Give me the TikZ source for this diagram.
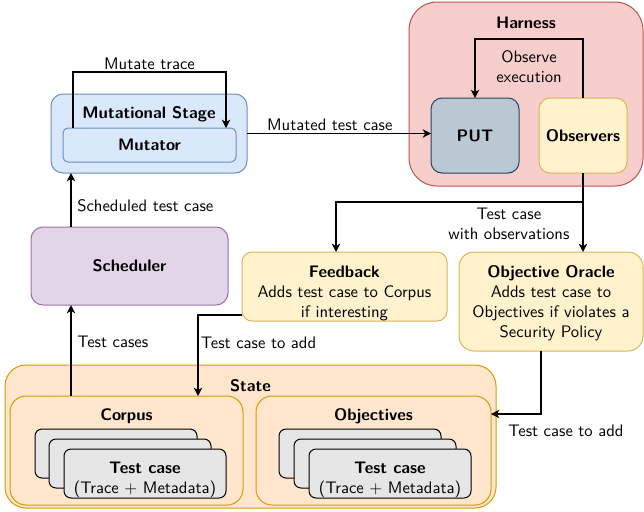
\documentclass[tikz,border=0pt]{standalone}
\usetikzlibrary{arrows.meta}
\definecolor{bluefill}{HTML}{DAE8FC}
\definecolor{bluedraw}{HTML}{6C8EBF}
\definecolor{redfill}{HTML}{F8CECC}
\definecolor{reddraw}{HTML}{B85450}
\definecolor{putfill}{HTML}{BAC8D3}
\definecolor{putdraw}{HTML}{23445D}
\definecolor{yellowfill}{HTML}{FFF2CC}
\definecolor{yellowdraw}{HTML}{D6B656}
\definecolor{purplefill}{HTML}{E1D5E7}
\definecolor{purpledraw}{HTML}{9673A6}
\definecolor{orangefill}{HTML}{FFE6CC}
\definecolor{orangedraw}{HTML}{D79B00}
\definecolor{cardfill}{HTML}{E6E6E6}
\tikzset{
  box/.style={draw, inner sep=0pt, outer sep=0pt, line width=0.6pt, align=center},
  wh/.style 2 args={minimum width=#1*0.6pt, minimum height=#2*0.6pt},
  rc/.style={rounded corners=#1*0.6pt},
  bluebox/.style={box, fill=bluefill, draw=bluedraw},
  redbox/.style={box, fill=redfill, draw=reddraw},
  putbox/.style={box, fill=putfill, draw=putdraw},
  yellowbox/.style={box, fill=yellowfill, draw=yellowdraw},
  purplebox/.style={box, fill=purplefill, draw=purpledraw},
  orangebox/.style={box, fill=orangefill, draw=orangedraw},
  card/.style={box, fill=cardfill, draw=black, wh={162}{49}, rc=7},
  boxtext/.style={align=center, yshift=-3.6pt},
  title/.style={font=\sffamily\bfseries, yshift=-12.3pt},
  arr/.style={-{Stealth[length=5pt,width=5pt,inset=1.5pt]}, line width=0.9pt},
  lbl/.style={inner sep=1pt}
}
\begin{document}
\begin{tikzpicture}[x=0.6pt,y=-0.6pt,font=\sffamily]
\useasboundingbox (0,0) rectangle (644,511);
\node[bluebox,wh={196}{79},rc=12] (stage) at (149,133.5) {};
\node[title] (stagetitle) at (stage.north) {Mutational Stage};
\node[bluebox,wh={173}{34},rc=5,font=\sffamily\bfseries] (mutator) at (149.5,145) {Mutator};
\node[redbox,wh={234}{184},rc=28] (harness) at (526,94) {};
\node[title] (harnesstitle) at (harness.north) {Harness};
\node[putbox,wh={88}{75},rc=11,font=\sffamily\bfseries] (put) at (475,135.5) {PUT};
\node[yellowbox,wh={88}{75},rc=11,font=\sffamily\bfseries] (observers) at (583,135.5) {Observers};
\node[purplebox,wh={197}{78},rc=12,font=\sffamily\bfseries] (scheduler) at (129.5,266) {Scheduler};
\node[yellowbox,wh={205}{69},rc=10] (feedback) at (344.5,286.5) {};
\node[boxtext,yshift=-0.6pt] (feedbacktext) at (feedback) {\textbf{Feedback}\\Adds test case to Corpus\\if interesting};
\node[yellowbox,wh={184}{99},rc=15] (oracle) at (551,301.5) {};
\node[boxtext,yshift=2.4pt] (oracletext) at (oracle) {\textbf{Objective Oracle}\\Adds test case to\\Objectives if violates a\\Security Policy};
\node[orangebox,wh={491}{143},rc=21] (state) at (250.5,436.5) {};
\node[title] (statetitle) at (state.north) {State};
\node[orangebox,wh={233}{109},rc=16] (corpus) at (126.5,450.5) {};
\node[title] (corpustitle) at (corpus.north) {Corpus};
\node[orangebox,wh={235}{109},rc=16] (objectives) at (373.5,450.5) {};
\node[title] (objectivestitle) at (objectives.north) {Objectives};
\node[card] (corpusback) at (116,453.5) {};
\node[card] (corpusmid) at (130,463.5) {};
\node[card] (corpusfront) at (145,473.5) {};
\node[boxtext] (corpustext) at (corpusfront) {\textbf{Test case}\\(Trace + Metadata)};
\node[card] (objback) at (360,453.5) {};
\node[card] (objmid) at (375,463.5) {};
\node[card] (objfront) at (390,473.5) {};
\node[boxtext] (objtext) at (objfront) {\textbf{Test case}\\(Trace + Metadata)};
\draw[arr] ([xshift=6pt]mutator.north west) -- ++(0,-56) -| node[pos=.25,above,lbl] {Mutate trace} ([xshift=-6pt]mutator.north east);
\draw[arr] (stage.east) -- node[pos=.45,above,lbl] {Mutated test case} (stage.east -| put.west);
\draw[arr] (observers.north) -- ++(0,-59) -| node[pos=.25,below,align=center,yshift=-3pt] {Observe\\execution} (put.north);
\draw[arr] (observers.south) -- ++(0,29) coordinate (split) -| node[pos=.15,below,align=center] {Test case\\with observations} ([xshift=-5.1pt]feedback.north);
\draw[arr] (split) -- (split |- oracle.north);
\coordinate (schedout) at ([xshift=24pt]scheduler.north west);
\draw[arr] (schedout) -- node[pos=.4,right] {Scheduled test case} (schedout |- stage.south);
\coordinate (corpusout) at ([xshift=36.6pt]corpus.north west);
\draw[arr] (corpusout) -- node[pos=.59,right] {Test cases} (corpusout |- scheduler.south);
\draw[arr] ([yshift=3.6pt]feedback.south west) -| node[pos=.67,right,xshift=-2pt] {Test case to add} ([xshift=112.8pt]corpus.north west);
\draw[arr] ([xshift=49.2pt]oracle.south west) |- node[pos=.5,anchor=north,xshift=15pt,yshift=-3pt] {Test case to add} ([yshift=-10.8pt]objectives.north east);
\end{tikzpicture}
\end{document}
